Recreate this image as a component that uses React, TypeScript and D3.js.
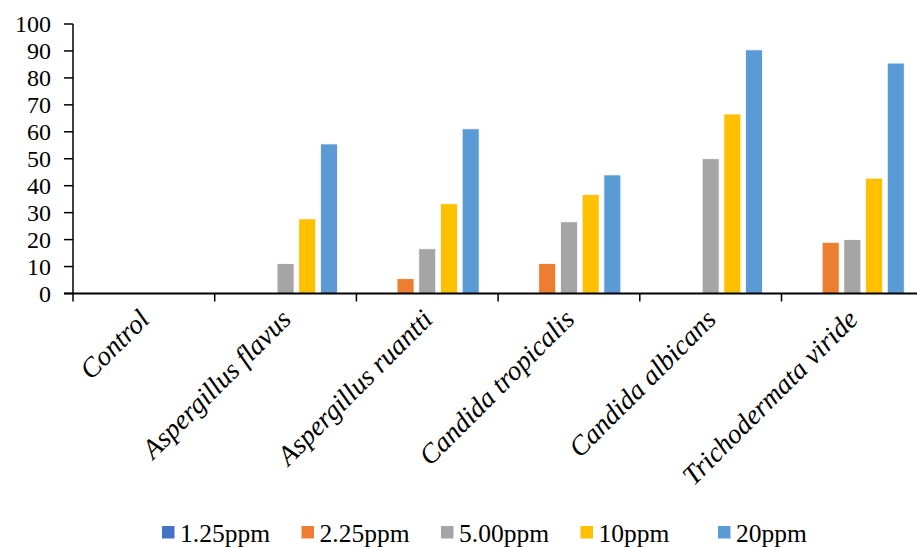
import React from "react";
import * as d3 from "d3";

const categories = [
  "Control",
  "Aspergillus flavus",
  "Aspergillus ruantti",
  "Candida tropicalis",
  "Candida albicans",
  "Trichodermata viride",
];
const seriesNames = ["1.25ppm", "2.25ppm", "5.00ppm", "10ppm", "20ppm"];
const seriesColors = ["#4472C4", "#ED7D31", "#A5A5A5", "#FFC000", "#5B9BD5"];
const v125 = [0, 0, 0, 0, 0, 0];
const v225 = [0, 0, 5.5, 11.1, 0, 19];
const v500 = [0, 11.1, 16.6, 26.6, 50, 20];
const v10 = [0, 27.7, 33.3, 36.7, 66.6, 42.8];
const v20 = [0, 55.5, 61.1, 44, 90.4, 85.5];
const yTicks = [0, 10, 20, 30, 40, 50, 60, 70, 80, 90, 100];

const seriesValues = [v125, v225, v500, v10, v20];
const FONT = "'Liberation Serif', 'Times New Roman', serif";

export default function App() {
  const W = 917;
  const H = 547;
  const left = 73;
  const bandW = 141.7;
  const y0 = 293.5;
  const y100 = 24;

  const x = d3.scaleBand<string>().domain(categories).range([left, left + bandW * categories.length]).padding(0);
  const x1 = d3
    .scaleBand<string>()
    .domain(seriesNames)
    .range([0, x.bandwidth()])
    .paddingInner(0.217)
    .paddingOuter(0.873);
  const y = d3.scaleLinear().domain([0, 100]).range([y0, y100]);

  const legendX = [162, 301.5, 441, 580.5, 718];

  return (
    <svg
      width={W}
      height={H}
      style={{ position: "absolute", left: 0, top: 0, background: "#fff" }}
      fontFamily={FONT}
    >
      <rect width={W} height={H} fill="#fff" />
      {/* bars */}
      {categories.map((c, ci) => (
        <g key={c} transform={`translate(${x(c)},0)`}>
          {seriesNames.map((s, si) => {
            const v = seriesValues[si][ci];
            if (!v) return null;
            return (
              <rect
                key={s}
                x={x1(s)}
                y={y(v)}
                width={x1.bandwidth()}
                height={y(0) - y(v)}
                fill={seriesColors[si]}
                stroke="#fff"
                strokeWidth={0.8}
              />
            );
          })}
        </g>
      ))}
      {/* y axis */}
      <line x1={left} x2={left} y1={y(100)} y2={y(0)} stroke="#000" strokeWidth={1.5} />
      {yTicks.map((t) => (
        <g key={t}>
          <line x1={left - 9} x2={left} y1={y(t)} y2={y(t)} stroke="#000" strokeWidth={1.5} />
          <text x={51} y={y(t)} dy="0.35em" textAnchor="end" fontSize={24} fill="#000">
            {t}
          </text>
        </g>
      ))}
      {/* x axis */}
      <line x1={left - 9} x2={x.range()[1]} y1={y(0)} y2={y(0)} stroke="#000" strokeWidth={2} />
      {categories.map((c) => (
        <line
          key={c}
          x1={x(c)}
          x2={x(c)}
          y1={y(0)}
          y2={y(0) + 8}
          stroke="#000"
          strokeWidth={1.5}
        />
      ))}
      {categories.map((c) => {
        const cx = (x(c) as number) + x.bandwidth() / 2 + 7;
        const cy = 321;
        return (
          <text
            key={c}
            transform={`translate(${cx},${cy}) rotate(-45)`}
            textAnchor="end"
            fontStyle="italic"
            fontSize={27.5}
            fill="#000"
          >
            {c}
          </text>
        );
      })}
      {/* legend */}
      {seriesNames.map((s, i) => (
        <g key={s}>
          <rect x={legendX[i]} y={526} width={12.5} height={12.5} fill={seriesColors[i]} />
          <text x={legendX[i] + 18} y={541.5} fontSize={25.5} fill="#000">
            {s}
          </text>
        </g>
      ))}
    </svg>
  );
}
